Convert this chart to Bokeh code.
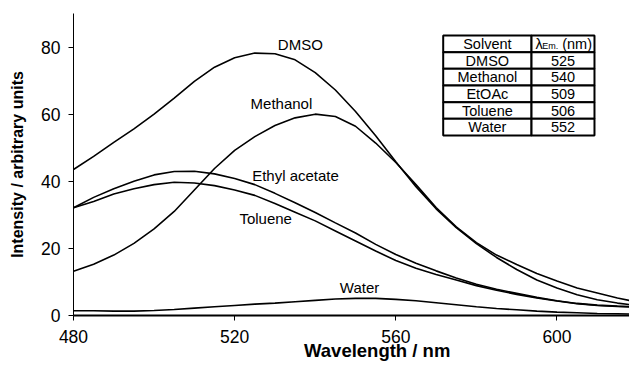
from bokeh.plotting import figure
from bokeh.models import Range1d, FixedTicker
from bokeh.core.properties import value
from bokeh.embed import file_html
from bokeh.resources import INLINE

# ---------------- data ----------------
wavelength = [480, 485, 490, 495, 500, 505, 510, 515, 520, 525, 530, 535, 540, 545,
              550, 555, 560, 565, 570, 575, 580, 585, 590, 595, 600, 605, 610, 615, 620]
dmso = [43.5, 47.4, 51.6, 55.6, 60.0, 64.8, 69.8, 74.0, 76.8, 78.2, 78.0, 76.2, 72.4, 67.2,
        60.8, 53.6, 45.8, 38.4, 31.8, 26.2, 21.4, 17.3, 13.7, 10.6, 8.2, 6.2, 4.7, 3.7, 3.0]
methanol = [13.2, 15.3, 18.0, 21.5, 25.8, 31.0, 37.4, 43.8, 49.2, 53.3, 56.6, 58.9, 60.0, 59.3,
            56.4, 51.4, 45.6, 39.0, 32.2, 26.4, 21.7, 18.0, 15.2, 12.5, 10.3, 8.2, 6.7, 5.2, 4.0]
ethyl_acetate = [32.1, 35.2, 37.8, 40.0, 41.9, 42.9, 43.0, 42.2, 40.8, 39.0, 36.4, 33.6, 30.7, 27.6,
                 24.6, 21.2, 18.2, 15.6, 13.3, 11.2, 9.3, 7.8, 6.6, 5.4, 4.4, 3.6, 3.1, 2.8, 2.6]
toluene = [32.1, 34.0, 36.2, 37.8, 39.0, 39.7, 39.5, 38.7, 37.4, 35.8, 33.4, 30.8, 28.2, 25.2,
           22.2, 19.2, 16.4, 14.1, 12.2, 10.6, 8.9, 7.5, 6.3, 5.2, 4.3, 3.5, 3.0, 2.7, 2.4]
water = [1.4, 1.4, 1.3, 1.3, 1.5, 1.8, 2.2, 2.6, 3.0, 3.4, 3.7, 4.1, 4.5, 4.9,
         5.1, 5.1, 4.8, 4.4, 3.8, 3.2, 2.6, 2.1, 1.7, 1.3, 1.0, 0.8, 0.6, 0.5, 0.4]

curve_labels = ["DMSO", "Methanol", "Ethyl acetate", "Toluene", "Water"]
solvents = ["DMSO", "Methanol", "EtOAc", "Toluene", "Water"]
lambda_em = ["525", "540", "509", "506", "552"]
x_ticks = [480, 520, 560, 600]
y_ticks = [0, 20, 40, 60, 80]

# ---------------- layout / style ----------------
FONT = "Liberation Sans"
label_x = [536.3, 531.6, 535.1, 527.7, 551.0]
label_y = [80.7, 63.1, 41.7, 28.8, 8.25]

p = figure(width=629, height=363, output_backend="svg", toolbar_location=None,
           x_range=Range1d(480, 618), y_range=Range1d(0, 90),
           min_border_left=73, min_border_right=0, min_border_top=13, min_border_bottom=48)
p.outline_line_color = None
p.grid.visible = False
p.background_fill_color = "white"

for ys in [dmso, methanol, ethyl_acetate, toluene, water]:
    p.line(wavelength, ys, line_color="black", line_width=1.6)

p.text(x=label_x, y=label_y, text=curve_labels, text_font=value(FONT),
       text_font_size="15px", text_align="center", text_baseline="middle", text_color="black")

# axes
p.xaxis.ticker = FixedTicker(ticks=x_ticks)
p.yaxis.ticker = FixedTicker(ticks=y_ticks)
for ax in (p.xaxis, p.yaxis):
    ax.major_tick_out = 5
    ax.major_tick_in = 0
    ax.minor_tick_out = 0
    ax.minor_tick_in = 0
    ax.major_label_text_font = FONT
    ax.major_label_text_font_size = "17.5px"
    ax.major_label_text_color = "black"
    ax.major_tick_line_color = "black"
    ax.axis_line_color = "black"
    ax.axis_label_text_font = FONT
    ax.axis_label_text_font_style = "bold"
    ax.axis_label_text_color = "black"
p.xaxis.axis_line_width = 2
p.yaxis.axis_line_width = 1
p.xaxis.major_label_standoff = 9
p.yaxis.major_label_standoff = 8
p.yaxis.axis_label = "Intensity / arbitrary units"
p.yaxis.axis_label_text_font_size = "16px"
p.yaxis.axis_label_standoff = 12
p.xaxis.axis_label = "\u00a0" * 10 + "Wavelength / nm"
p.xaxis.axis_label_text_font_size = "18.5px"
p.xaxis.axis_label_standoff = -6

# table (data-space layout)
TX0, TX1, TX2 = 571.76, 593.68, 609.31
TTOP, RH = 83.44, 4.967
nrows = len(solvents) + 1
lefts, rights, tops, bottoms = [], [], [], []
for r in range(nrows):
    for (a, b) in [(TX0, TX1), (TX1, TX2)]:
        lefts.append(a); rights.append(b)
        tops.append(TTOP - r * RH); bottoms.append(TTOP - (r + 1) * RH)
p.quad(left=lefts, right=rights, top=tops, bottom=bottoms, fill_color="white",
       line_color="black", line_width=2)

c1 = (TX0 + TX1) / 2
c2 = (TX1 + TX2) / 2
row_y = [TTOP - (r + 0.5) * RH for r in range(nrows)]
p.text(x=[c1] * nrows, y=row_y, text=["Solvent"] + solvents, text_font=value(FONT),
       text_font_size="14.5px", text_align="center", text_baseline="middle", text_color="black")
p.text(x=[c2] * (nrows - 1), y=row_y[1:], text=lambda_em, text_font=value(FONT),
       text_font_size="14.5px", text_align="center", text_baseline="middle", text_color="black")
# header "λEm. (nm)"
p.text(x=[594.67], y=[row_y[0]], text=["λ"], text_font=value(FONT), text_font_size="14.5px",
       text_align="left", text_baseline="middle", text_color="black")
p.text(x=[596.33], y=[row_y[0] - 0.7], text=["Em."], text_font=value(FONT), text_font_size="9px",
       text_align="left", text_baseline="middle", text_color="black")
p.text(x=[601.3], y=[row_y[0]], text=["(nm)"], text_font=value(FONT), text_font_size="14.5px",
       text_align="left", text_baseline="middle", text_color="black")

open("out.html", "w").write(file_html(p, INLINE))
